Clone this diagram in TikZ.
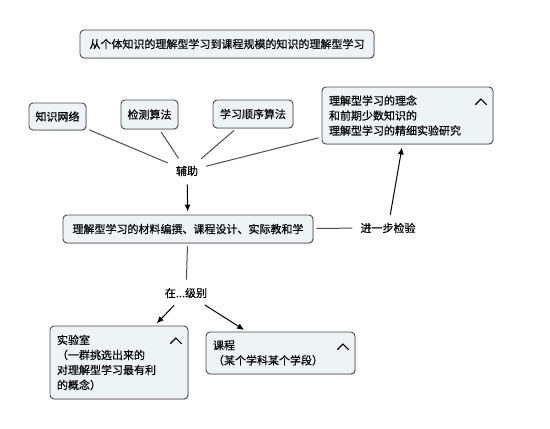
\documentclass[tikz,border=0pt]{standalone}
\usepackage{fontspec}
\setmainfont{Noto Sans CJK SC}[FakeBold=0.4]
\usetikzlibrary{shadows,arrows.meta}
\definecolor{boxfill}{HTML}{EEF3F6}
\definecolor{boxline}{HTML}{4D4D4D}
\begin{document}
\begin{tikzpicture}[x=1pt,y=-1pt,
  font=\fontsize{11}{15}\selectfont,
  concept/.style={draw=boxline, fill=boxfill, line width=0.9pt, rounded corners=4pt, inner sep=0pt,
    drop shadow={shadow xshift=0.6pt, shadow yshift=-0.6pt, fill=black!40, opacity=0.6}},
  multi/.style={concept, inner xsep=7pt, align=left},
  phrase/.style={inner sep=5pt},
  link/.style={draw=black!70, line width=1pt, shorten <=3pt, shorten >=3pt},
  linkto/.style={link, draw=black, -{Latex[length=7pt,width=6pt]}},
  fold/.style={line width=1.1pt, line cap=round}]
			\useasboundingbox (0,0) rectangle (550,429);
			\node[concept, minimum width=294pt, minimum height=28pt] (title) at (227,44) {从个体知识的理解型学习到课程规模的知识的理解型学习};
			\node[concept, minimum width=57pt, minimum height=27pt] (network) at (57.5,116.5) {知识网络};
			\node[concept, minimum width=57pt, minimum height=29pt] (detect) at (149.5,114.5) {检测算法};
			\node[concept, minimum width=80pt, minimum height=28pt] (order) at (253,114) {学习顺序算法};
			\node[multi, text width=157pt, minimum height=57pt] (idea) at (407.5,115.5) {理解型学习的理念\\和前期少数知识的\\理解型学习的精细实验研究};
			\node[phrase] (assist) at (187,171) {辅助};
			\node[concept, minimum width=250pt, minimum height=28pt] (practice) at (188,229) {理解型学习的材料编撰、课程设计、实际教和学};
			\node[phrase] (verify) at (388,228) {进一步检验};
			\node[phrase] (level) at (186,293) {在...级别};
			\node[multi, text width=124pt, minimum height=73pt] (lab) at (119,362.5) {实验室\\（一群挑选出来的\\对理解型学习最有利\\的概念）};
			\node[multi, text width=135pt, minimum height=42pt] (course) at (280.5,353) {课程\\（某个学科某个学段）};
			\foreach \c in {idea, lab, course}
				\draw[fold] ([xshift=-18pt,yshift=-18pt]\c.north east) -- ++(5.5,-5.5) -- ++(5.5,5.5);
			\draw[link] (network) -- (assist);
			\draw[link] (detect) -- (assist);
			\draw[link] (order) -- (assist);
			\draw[link] (idea) -- (assist);
			\draw[linkto] (assist) -- (practice);
			\draw[link] (practice) -- (verify);
			\draw[linkto] (verify) -- (idea);
			\draw[link] (practice) -- (level);
			\draw[linkto] (level) -- (lab);
			\draw[linkto] (level) -- (course);
\end{tikzpicture}
\end{document}
